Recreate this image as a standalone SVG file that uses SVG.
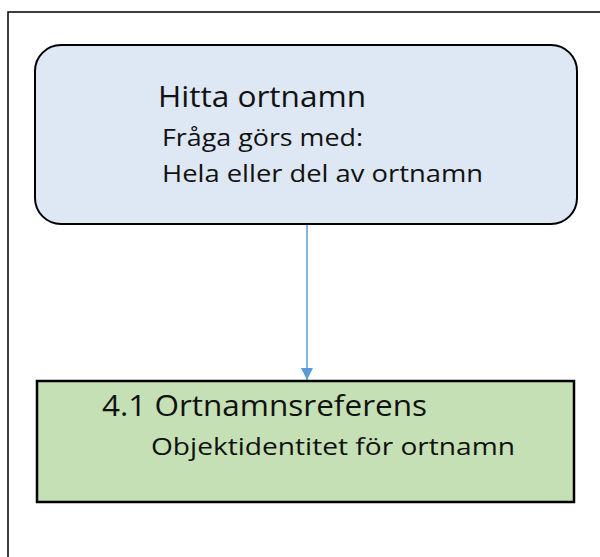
<svg xmlns="http://www.w3.org/2000/svg" width="600" height="557" viewBox="0 0 600 557">
  <defs>
    <style>
      .t { font-family: "Open Sans", "Liberation Sans", sans-serif; fill: #111111; }
      .big { font-size: 30px; }
      .small { font-size: 24px; }
    </style>
    <marker id="arr" viewBox="0 0 12 12" refX="12" refY="6" markerWidth="12" markerHeight="12" markerUnits="userSpaceOnUse" orient="auto">
      <path d="M0,0 L12,6 L0,12 z" fill="#5b9bd5"/>
    </marker>
  </defs>
  <rect x="0" y="0" width="600" height="557" fill="#ffffff"/>
  <rect x="8" y="12" width="620" height="580" fill="none" stroke="#000000" stroke-width="1.5"/>

  <g id="connectors">
    <line x1="307" y1="225" x2="307" y2="380" stroke="#5b9bd5" stroke-width="1.5" marker-end="url(#arr)"/>
  </g>

  <g id="node-hitta">
    <rect x="35" y="45" width="542" height="179" rx="26" ry="26" fill="#dde8f4" stroke="#000000" stroke-width="2"/>
    <text class="t big" x="158" y="107" textLength="208" lengthAdjust="spacingAndGlyphs">Hitta ortnamn</text>
    <text class="t small" x="162" y="146" textLength="201" lengthAdjust="spacingAndGlyphs">Fråga görs med:</text>
    <text class="t small" x="162" y="182" textLength="321" lengthAdjust="spacingAndGlyphs">Hela eller del av ortnamn</text>
  </g>

  <g id="node-ortnamnsreferens">
    <rect x="37" y="381" width="537" height="121" fill="#c5e0b4" stroke="#000000" stroke-width="2.5"/>
    <text class="t big" x="102" y="416" textLength="325" lengthAdjust="spacingAndGlyphs">4.1 Ortnamnsreferens</text>
    <text class="t small" x="151" y="455" textLength="364" lengthAdjust="spacingAndGlyphs">Objektidentitet för ortnamn</text>
  </g>
</svg>
